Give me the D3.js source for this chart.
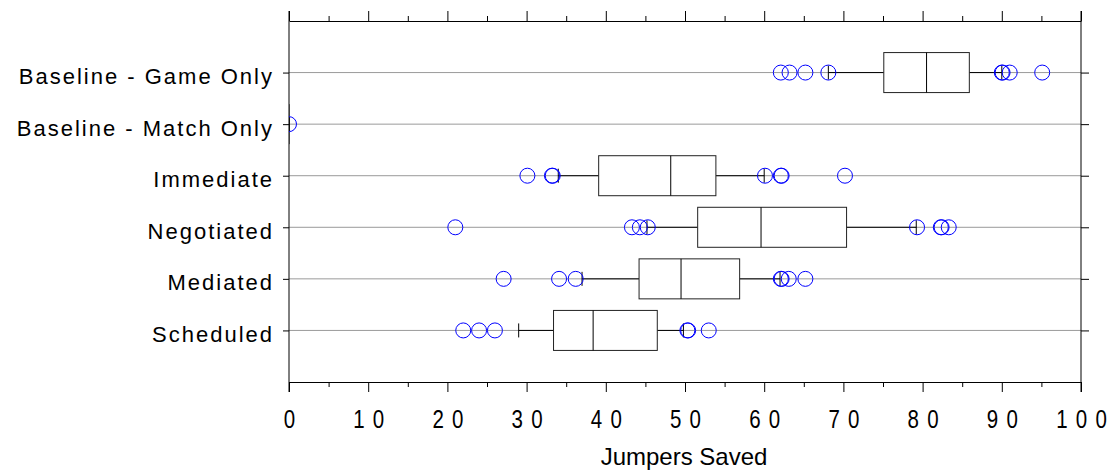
<!DOCTYPE html>
<html>
<head>
<meta charset="utf-8">
<script src="https://cdn.jsdelivr.net/npm/d3@7"></script>
<style>
  html, body { margin: 0; padding: 0; background: #fff; }
  svg { display: block; font-family: "Liberation Sans", Arial, Helvetica, sans-serif; }
</style>
</head>
<body>
<svg id="chart" width="1116" height="475"></svg>
<script>
// Jumpers saved per condition, summarised as box plots
const categories = [
  "Baseline - Game Only",
  "Baseline - Match Only",
  "Immediate",
  "Negotiated",
  "Mediated",
  "Scheduled"
];
const whiskerLow  = [68.1, 0, 34.0, 45.2, 37.0, 29.0];
const quartile1   = [75.1, 0, 39.1, 51.6, 44.2, 33.4];
const medians     = [80.5, 0, 48.2, 59.6, 49.5, 38.4];
const quartile3   = [85.9, 0, 53.9, 70.4, 56.9, 46.5];
const whiskerHigh = [90.0, 0, 60.0, 79.2, 62.0, 49.8];
const outliers = [
  [62.1, 63.2, 65.2, 68.1, 90.0, 90.1, 91.0, 95.1],
  [0],
  [30.1, 33.2, 33.3, 60.1, 62.1, 62.2, 70.2],
  [21.0, 43.3, 44.3, 45.3, 79.3, 82.3, 82.4, 83.3],
  [27.1, 34.1, 36.2, 62.1, 62.2, 63.1, 65.2],
  [22.0, 24.0, 26.0, 50.3, 50.4, 53.0]
];
const xTicks = [0, 10, 20, 30, 40, 50, 60, 70, 80, 90, 100];
const xMinorTicks = [5, 15, 25, 35, 45, 55, 65, 75, 85, 95];
const xTitle = "Jumpers Saved";

const svg = d3.select("#chart");
const plotLeft = 289, plotRight = 1081, plotTop = 21, plotBottom = 382;

const x = d3.scaleLinear().domain([0, 100]).range([plotLeft, plotRight]);
const y = d3.scalePoint().domain(categories).range([plotTop, plotBottom]).padding(1);

const rows = categories.map((c, i) => ({
  cat: c,
  lo: whiskerLow[i], q1: quartile1[i], med: medians[i],
  q3: quartile3[i], hi: whiskerHigh[i], out: outliers[i]
}));

svg.append("defs").append("clipPath").attr("id", "plotClip")
  .append("rect").attr("x", plotLeft).attr("y", plotTop)
  .attr("width", plotRight - plotLeft).attr("height", plotBottom - plotTop);

// horizontal grid lines at each category
svg.append("g").selectAll("line").data(categories).join("line")
  .attr("x1", plotLeft).attr("x2", plotRight)
  .attr("y1", d => y(d)).attr("y2", d => y(d))
  .attr("stroke", "#9a9a9a").attr("stroke-width", 1);

// bottom axis with narrow, widely spaced digits
const fontTick = 25, tickSpacing = 10, tickSqueeze = 0.82;
const bottomAxis = svg.append("g").attr("transform", `translate(0,${plotBottom})`)
  .call(d3.axisBottom(x).tickValues(xTicks).tickSize(10).tickSizeOuter(0).tickFormat(d3.format("d")));
bottomAxis.selectAll("text")
  .attr("y", 46).attr("dy", 0)
  .attr("dx", tickSpacing / 2)
  .attr("transform", `scale(${tickSqueeze},1)`)
  .style("font-size", fontTick + "px")
  .style("letter-spacing", tickSpacing + "px")
  .attr("fill", "#000");
svg.append("g").attr("transform", `translate(0,${plotBottom})`)
  .call(d3.axisBottom(x).tickValues(xMinorTicks).tickSize(5).tickSizeOuter(0).tickFormat(""))
  .select(".domain").remove();

// top edge mirrors the tick marks
svg.append("g").attr("transform", `translate(0,${plotTop})`)
  .call(d3.axisTop(x).tickValues(xTicks).tickSize(10).tickSizeOuter(0).tickFormat(""));
svg.append("g").attr("transform", `translate(0,${plotTop})`)
  .call(d3.axisTop(x).tickValues(xMinorTicks).tickSize(5).tickSizeOuter(0).tickFormat(""))
  .select(".domain").remove();

// left and right frame edges with category ticks
svg.append("g").attr("transform", `translate(${plotLeft},0)`)
  .call(d3.axisLeft(y).tickSize(6).tickSizeOuter(0).tickFormat(""))
  .select(".domain").remove();
svg.append("g").attr("transform", `translate(${plotRight},0)`)
  .call(d3.axisRight(y).tickSize(8).tickSizeOuter(0).tickFormat(""))
  .select(".domain").remove();
svg.append("g").selectAll("line").data([0, 100]).join("line")
  .attr("x1", d => x(d)).attr("x2", d => x(d))
  .attr("y1", plotTop - 10).attr("y2", plotBottom + 10)
  .attr("stroke", "#000").attr("stroke-width", 1);

svg.selectAll(".tick line").attr("stroke", "#000");
svg.selectAll(".domain").attr("stroke", "#000");

// category labels
const labelSpacing = 2;
svg.append("g").selectAll("text").data(categories).join("text")
  .attr("x", plotLeft - 17 + labelSpacing)
  .attr("y", d => y(d) + 11.5)
  .attr("text-anchor", "end")
  .style("font-size", "22px")
  .style("letter-spacing", labelSpacing + "px")
  .attr("fill", "#000")
  .text(d => d);

// axis title
svg.append("text")
  .attr("x", x(50) - 1).attr("y", 465)
  .attr("text-anchor", "middle")
  .style("font-size", "24px")
  .attr("fill", "#000")
  .text(xTitle);

// box plots
const boxHalf = 20, capHalf = 7;
const boxes = svg.append("g").attr("clip-path", "url(#plotClip)")
  .selectAll("g").data(rows).join("g");

boxes.append("line")
  .attr("x1", d => x(d.lo)).attr("x2", d => x(d.q1))
  .attr("y1", d => y(d.cat)).attr("y2", d => y(d.cat))
  .attr("stroke", "#000");
boxes.append("line")
  .attr("x1", d => x(d.q3)).attr("x2", d => x(d.hi))
  .attr("y1", d => y(d.cat)).attr("y2", d => y(d.cat))
  .attr("stroke", "#000");
boxes.selectAll(".cap").data(d => [d.lo, d.hi].map(v => ({ v, cat: d.cat }))).join("line")
  .attr("class", "cap")
  .attr("x1", d => x(d.v)).attr("x2", d => x(d.v))
  .attr("y1", d => y(d.cat) - capHalf).attr("y2", d => y(d.cat) + capHalf)
  .attr("stroke", "#000");
boxes.append("rect")
  .attr("x", d => x(d.q1)).attr("width", d => x(d.q3) - x(d.q1))
  .attr("y", d => y(d.cat) - boxHalf).attr("height", boxHalf * 2)
  .attr("fill", "#fff").attr("stroke", "#222").attr("stroke-width", 1);
boxes.append("line")
  .attr("x1", d => x(d.med)).attr("x2", d => x(d.med))
  .attr("y1", d => y(d.cat) - boxHalf).attr("y2", d => y(d.cat) + boxHalf)
  .attr("stroke", "#000");

// outlying points
boxes.selectAll("circle").data(d => d.out.map(v => ({ v, cat: d.cat }))).join("circle")
  .attr("cx", d => x(d.v)).attr("cy", d => y(d.cat))
  .attr("r", 7.5)
  .attr("fill", "none").attr("stroke", "#0000ff").attr("stroke-width", 1);
</script>
</body>
</html>
